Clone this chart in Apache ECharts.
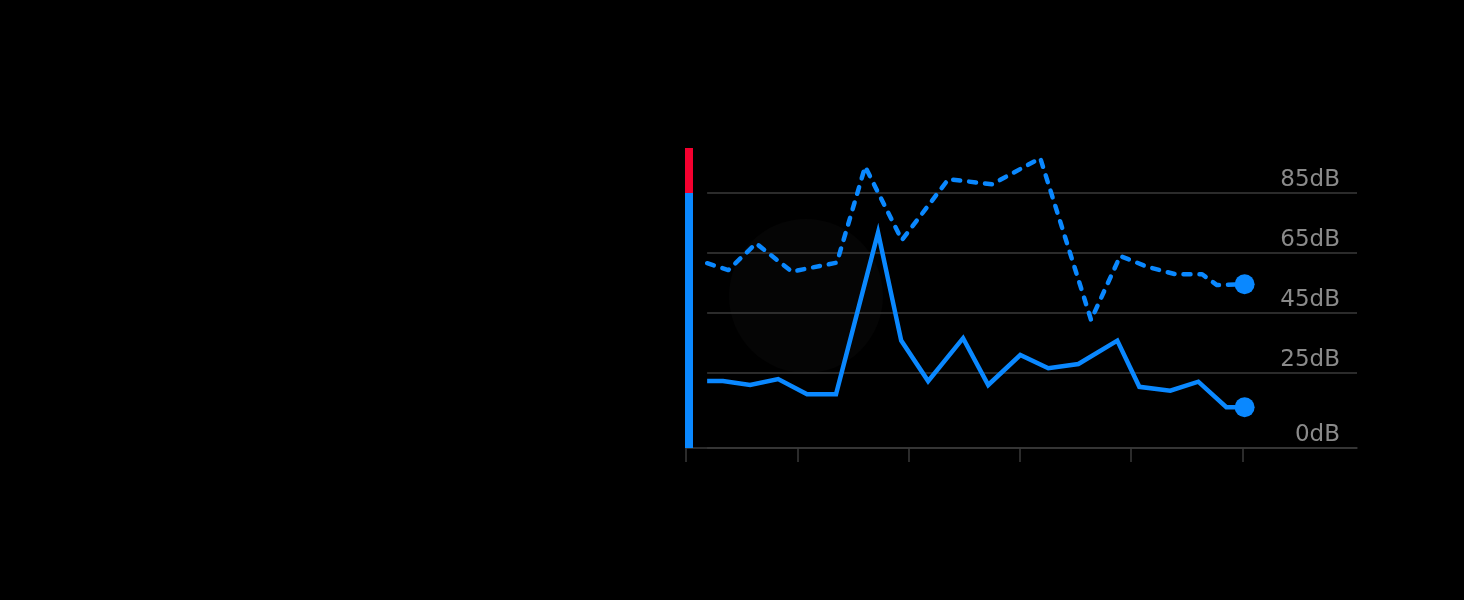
<!DOCTYPE html>
<html>
<head>
<meta charset="utf-8">
<script src="https://cdn.jsdelivr.net/npm/echarts@6/dist/echarts.min.js"></script>
<style>
  html, body { margin: 0; padding: 0; background: #000; }
  #chart { width: 1464px; height: 600px; }
</style>
</head>
<body>
<div id="chart"></div>
<script>
// ---- data (time in minutes, level in dB) ----
const avgTimes   = [0.95, 1.66, 2.88, 4.14, 5.44, 6.74, 8.63, 9.67, 10.88, 12.45, 13.58, 15.02, 16.28, 17.63, 19.38, 20.37, 21.76, 23.02, 24.28, 25.1];
const avgLevels  = [22.3, 22.3, 21.0, 23.0, 17.9, 17.9, 71.8, 35.8, 22.3, 36.6, 21.0, 31.0, 26.6, 28.0, 35.8, 20.4, 19.1, 22.1, 13.6, 13.6];
const peakTimes  = [0.95, 1.90, 3.15, 4.75, 6.78, 8.05, 9.70, 11.79, 13.75, 15.92, 18.20, 19.51, 20.77, 22.00, 23.19, 23.86, 25.1];
const peakLevels = [61.6, 59.3, 68.2, 58.8, 61.8, 93.8, 69.3, 89.6, 87.9, 96.6, 42.7, 64.0, 60.3, 57.9, 57.9, 54.3, 54.6];
const gridLevels = [0, 25, 45, 65, 85];          // labelled reference lines
const xTickValues = [0, 5, 10, 15, 20, 25];      // tick marks on time axis (no labels)
const meterSegments = [85, 15];                   // safe range 0-85 dB, loud range 85-100 dB
const levelMax = 100;
const timeMax = 30.15;

const BLUE = '#0A88FF';
const RED = '#F5002F';
const GRID_COLOR = '#3a3a3a';

const zip = (xs, ys) => xs.map((x, i) => [x, ys[i]]);
const last = (xs, ys) => [[xs[xs.length - 1], ys[ys.length - 1]]];

const chart = echarts.init(document.getElementById('chart'), null, { renderer: 'canvas' });

const option = {
  backgroundColor: '#000',
  animation: false,
  graphic: [{
    type: 'circle', left: 729, top: 219, z: -10, silent: true,
    shape: { r: 77 }, style: { fill: '#050505' }
  }],
  grid: [
    { left: 686, right: 107, top: 148, bottom: 152 },
    { left: 685, width: 8, top: 148, bottom: 152 }
  ],
  xAxis: [
    {
      gridIndex: 0, type: 'value', min: 0, max: timeMax,
      axisLine: { show: true, lineStyle: { color: GRID_COLOR, width: 1.5 } },
      axisTick: { show: true, customValues: xTickValues, length: 14, lineStyle: { color: GRID_COLOR, width: 1.5 } },
      axisLabel: { show: false },
      splitLine: { show: false }
    },
    { gridIndex: 1, type: 'category', data: ['meter'], show: false }
  ],
  yAxis: [
    { gridIndex: 0, type: 'value', min: 0, max: levelMax, show: false },
    { gridIndex: 1, type: 'value', min: 0, max: levelMax, show: false }
  ],
  series: [
    {
      name: 'grid', type: 'line', xAxisIndex: 0, yAxisIndex: 0, data: [], z: 1, silent: true,
      markLine: {
        silent: true, z: 1, symbol: ['none', 'none'], animation: false,
        lineStyle: { color: GRID_COLOR, width: 1.5, type: 'solid' },
        label: {
          show: true, position: 'insideEndTop', distance: [17, 1],
          formatter: p => p.data.lv + 'dB',
          color: '#8a8a8a', fontSize: 23, fontFamily: 'DejaVu Sans'
        },
        emphasis: { disabled: true },
        data: gridLevels.map(v => [
          { coord: [avgTimes[0], v], lv: v },
          { coord: [timeMax, v] }
        ])
      }
    },
    {
      name: 'Peak', type: 'line', xAxisIndex: 0, yAxisIndex: 0, z: 3,
      data: zip(peakTimes, peakLevels), symbol: 'none',
      lineStyle: { color: BLUE, width: 4.5, type: [7, 9], cap: 'round', join: 'round' }
    },
    {
      name: 'Average', type: 'line', xAxisIndex: 0, yAxisIndex: 0, z: 3,
      data: zip(avgTimes, avgLevels), symbol: 'none',
      lineStyle: { color: BLUE, width: 4.5, join: 'miter' }
    },
    {
      name: 'Peak now', type: 'scatter', xAxisIndex: 0, yAxisIndex: 0, z: 4,
      data: last(peakTimes, peakLevels), symbolSize: 20, itemStyle: { color: BLUE, opacity: 1 }
    },
    {
      name: 'Average now', type: 'scatter', xAxisIndex: 0, yAxisIndex: 0, z: 4,
      data: last(avgTimes, avgLevels), symbolSize: 20, itemStyle: { color: BLUE, opacity: 1 }
    },
    {
      name: 'Safe', type: 'bar', xAxisIndex: 1, yAxisIndex: 1, stack: 'meter',
      barWidth: '100%', data: [meterSegments[0]], itemStyle: { color: BLUE }, silent: true
    },
    {
      name: 'Loud', type: 'bar', xAxisIndex: 1, yAxisIndex: 1, stack: 'meter',
      barWidth: '100%', data: [meterSegments[1]], itemStyle: { color: RED }, silent: true
    }
  ]
};
chart.setOption(option);
</script>
</body>
</html>
